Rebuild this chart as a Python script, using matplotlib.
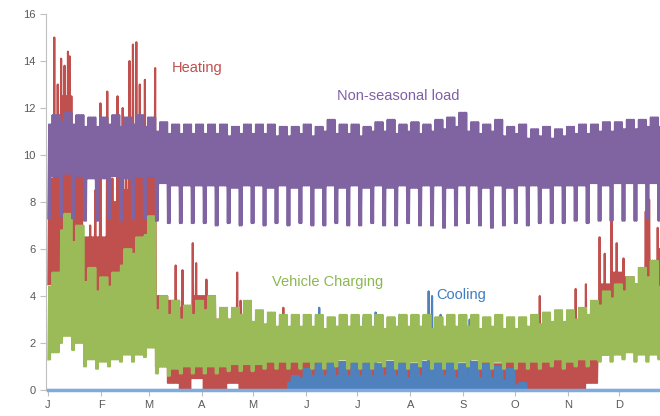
import matplotlib
matplotlib.use("Agg")
import matplotlib.pyplot as plt

plt.rcParams['font.family'] = ['Liberation Sans', 'DejaVu Sans']

# month ticks (day of year)
months = ['J', 'F', 'M', 'A', 'M', 'J', 'J', 'A', 'S', 'O', 'N', 'D']
month_days = [0, 31, 59, 90, 120, 151, 181, 212, 243, 273, 304, 334]

# weekly readings (52 weeks), rows = quarters of 13 weeks
# non-seasonal load: weekday band and weekend dip
load_hi = [11.7, 11.8, 11.7, 11.6, 11.6, 11.7, 11.6, 11.7, 11.6, 11.4, 11.3, 11.3, 11.3,
           11.3, 11.3, 11.2, 11.3, 11.3, 11.3, 11.2, 11.2, 11.3, 11.2, 11.5, 11.3, 11.3,
           11.2, 11.4, 11.5, 11.3, 11.4, 11.3, 11.5, 11.6, 11.8, 11.4, 11.3, 11.5, 11.2,
           11.3, 11.1, 11.2, 11.1, 11.2, 11.3, 11.3, 11.4, 11.4, 11.5, 11.5, 11.6, 11.6]
load_lo = [9.1, 9.2, 9.1, 9.0, 9.0, 9.1, 9.0, 9.1, 9.1, 8.8, 8.7, 8.7, 8.7,
           8.7, 8.7, 8.6, 8.7, 8.7, 8.6, 8.7, 8.6, 8.7, 8.6, 8.7, 8.6, 8.7,
           8.6, 8.7, 8.6, 8.7, 8.6, 8.7, 8.7, 8.6, 8.7, 8.7, 8.6, 8.7, 8.6,
           8.7, 8.7, 8.6, 8.7, 8.7, 8.7, 8.8, 8.7, 8.8, 8.8, 8.8, 8.8, 8.8]
load_we_hi = [11.3, 11.4, 11.3, 11.2, 11.2, 11.3, 11.2, 11.3, 11.2, 11.0, 10.9, 10.9, 10.9,
              10.9, 10.9, 10.8, 10.9, 10.9, 10.9, 10.8, 10.8, 10.9, 10.8, 11.0, 10.9, 10.9,
              10.8, 11.0, 11.0, 10.9, 11.0, 10.9, 11.0, 11.1, 11.2, 11.0, 10.9, 11.0, 10.8,
              10.9, 10.7, 10.8, 10.7, 10.8, 10.9, 10.9, 11.0, 11.0, 11.1, 11.1, 11.2, 11.2]
load_we_lo = [7.3, 7.4, 7.3, 7.2, 7.2, 7.3, 7.2, 7.3, 7.3, 7.2, 7.1, 7.1, 7.1,
              7.1, 7.0, 7.1, 7.0, 7.1, 7.0, 7.1, 7.0, 7.1, 7.0, 7.0, 7.1, 7.0,
              7.0, 7.1, 7.0, 7.0, 7.1, 7.0, 7.0, 6.9, 7.0, 7.1, 7.0, 6.9, 7.0,
              7.1, 7.0, 7.1, 7.1, 7.1, 7.2, 7.1, 7.2, 7.2, 7.2, 7.2, 7.3, 7.2]

# heating
heat_lo = [4.5, 5.0, 4.5, 3.8, 3.6, 4.0, 5.0, 5.5, 5.0, 1.0, 0.3, 0.0, 0.5,
           0.0, 0.0, 0.3, 0.0, 0.0, 0.0, 0.0, 0.0, 0.0, 0.0, 0.0, 0.0, 0.0,
           0.0, 0.0, 0.0, 0.0, 0.0, 0.0, 0.0, 0.0, 0.0, 0.0, 0.0, 0.0, 0.0,
           0.0, 0.0, 0.0, 0.0, 0.0, 0.0, 0.3, 1.5, 2.0, 2.5, 2.5, 2.5, 2.5]
heat_hi = [9.0, 12.5, 11.0, 6.5, 6.5, 8.0, 8.5, 9.5, 9.5, 4.0, 3.8, 3.5, 4.0,
           4.0, 3.0, 3.0, 2.5, 2.0, 1.5, 1.3, 1.3, 1.2, 1.2, 1.2, 1.2, 1.2,
           1.2, 1.1, 1.2, 1.0, 1.1, 1.2, 1.1, 1.0, 1.1, 1.2, 1.2, 1.1, 1.2,
           1.3, 1.4, 1.3, 1.3, 1.5, 2.0, 2.5, 4.5, 5.0, 4.8, 4.5, 5.5, 6.0]
heat_spikes = {3: 15.0, 5: 13.0, 7: 14.1, 9: 13.8, 11: 14.4, 12: 14.2, 16: 9.5,
               20: 6.0, 24: 7.0, 27: 8.5, 30: 12.2, 34: 12.7, 37: 9.0, 40: 12.5,
               43: 12.0, 45: 11.5, 47: 14.0, 49: 14.7, 51: 14.8, 53: 13.0,
               56: 13.2, 59: 10.0, 62: 13.7, 74: 5.3, 78: 5.1, 84: 6.25, 86: 5.4,
               92: 4.7, 110: 5.0, 112: 3.8, 137: 3.5, 287: 4.0, 308: 4.3,
               314: 4.5, 322: 6.5, 325: 5.8, 329: 7.5, 332: 6.25, 336: 5.6,
               349: 7.6, 350: 8.9, 351: 8.1, 356: 6.9}

# vehicle charging
ev_lo = [1.6, 2.3, 2.0, 1.3, 1.2, 1.3, 1.5, 1.5, 1.8, 1.0, 0.9, 1.0, 1.0,
         1.0, 1.0, 1.1, 1.1, 1.1, 1.2, 1.2, 1.2, 1.2, 1.2, 1.2, 1.3, 1.2,
         1.2, 1.2, 1.3, 1.2, 1.2, 1.3, 1.2, 1.2, 1.2, 1.3, 1.2, 1.2, 1.2,
         1.2, 1.2, 1.2, 1.3, 1.2, 1.3, 1.3, 1.5, 1.5, 1.6, 1.5, 1.5, 1.6]
ev_hi = [5.0, 7.5, 7.0, 5.2, 4.8, 5.0, 6.0, 6.5, 7.4, 4.0, 3.8, 3.6, 3.8,
         4.0, 3.5, 3.5, 3.8, 3.4, 3.3, 3.2, 3.2, 3.2, 3.2, 3.1, 3.2, 3.2,
         3.2, 3.2, 3.1, 3.2, 3.2, 3.2, 3.1, 3.2, 3.2, 3.2, 3.1, 3.2, 3.1,
         3.1, 3.2, 3.3, 3.4, 3.4, 3.5, 3.8, 4.2, 4.5, 4.8, 5.2, 5.5, 5.0]
ev_we_lo = [1.3, 2.0, 1.7, 1.0, 0.9, 1.0, 1.2, 1.2, 1.4, 0.7, 0.6, 0.7, 0.7,
            0.7, 0.7, 0.8, 0.8, 0.8, 0.9, 0.9, 0.9, 0.9, 0.9, 0.9, 1.0, 0.9,
            0.9, 0.9, 1.0, 0.9, 0.9, 1.0, 0.9, 0.9, 0.9, 1.0, 0.9, 0.9, 0.9,
            0.9, 0.9, 0.9, 1.0, 0.9, 1.0, 1.0, 1.2, 1.2, 1.3, 1.2, 1.2, 1.3]
ev_we_hi = [4.4, 6.8, 6.3, 4.6, 4.2, 4.4, 5.3, 5.8, 6.6, 3.4, 3.2, 3.0, 3.2,
            3.4, 3.0, 3.0, 3.2, 2.9, 2.8, 2.7, 2.7, 2.7, 2.7, 2.6, 2.7, 2.7,
            2.7, 2.7, 2.6, 2.7, 2.7, 2.7, 2.6, 2.7, 2.7, 2.7, 2.6, 2.7, 2.6,
            2.6, 2.7, 2.8, 2.9, 2.9, 3.0, 3.2, 3.6, 3.9, 4.2, 4.5, 4.8, 4.4]

# cooling (always starts at zero)
cool_lo = [0.0] * 52
cool_hi = [0, 0, 0, 0, 0, 0, 0, 0, 0, 0, 0, 0, 0,
           0, 0, 0, 0, 0, 0, 0, 0.6, 0.9, 1.1, 1.2, 1.2, 1.2,
           1.2, 1.1, 1.2, 1.2, 1.1, 1.2, 1.2, 1.2, 1.1, 1.2, 1.1, 1.0, 0.9,
           0.3, 0, 0, 0, 0, 0, 0, 0, 0, 0, 0, 0, 0]
cool_we_hi = [0, 0, 0, 0, 0, 0, 0, 0, 0, 0, 0, 0, 0,
              0, 0, 0, 0, 0, 0, 0, 0.3, 0.5, 0.6, 0.6, 0.6, 0.6,
              0.6, 0.6, 0.6, 0.6, 0.5, 0.6, 0.6, 0.6, 0.5, 0.6, 0.5, 0.5, 0.4,
              0.2, 0, 0, 0, 0, 0, 0, 0, 0, 0, 0, 0, 0]
cool_spikes = {158: 3.5, 184: 3.1, 191: 3.3, 205: 3.2, 222: 4.2, 224: 4.0,
               229: 3.2, 246: 3.0}


def zigzag(lo, hi, we_lo, we_hi, spikes={}):
    # one low and one high point per day, weekend uses its own values
    xs, ys = [], []
    for w in range(len(lo)):
        for k in range(7):
            d = 7 * w + k
            if k < 2:
                a, b = we_lo[w], we_hi[w]
            else:
                a, b = lo[w], hi[w]
            b = spikes.get(d, b)
            xs += [d + 0.15, d + 0.65]
            ys += [a, b]
    return xs, ys


red = '#C0504D'
green = '#9BBB59'
purple = '#8064A2'
blue = '#4F81BD'
lw = 1.5

fig = plt.figure(figsize=(6.6, 4.16), dpi=100)
ax = fig.add_axes([46 / 660, 26 / 416, 614 / 660, 376 / 416])

x, y = zigzag(heat_lo, heat_hi, heat_lo, heat_hi, heat_spikes)
ax.plot(x, y, color=red, lw=lw, zorder=1)
x, y = zigzag(cool_lo, cool_hi, cool_lo, cool_we_hi, cool_spikes)
ax.plot(x, y, color=blue, lw=lw, zorder=2)
ax.plot([x[0], x[-1]], [0, 0], color='#7FACDD', lw=2.5, zorder=5, clip_on=False)
x, y = zigzag(ev_lo, ev_hi, ev_we_lo, ev_we_hi)
ax.plot(x, y, color=green, lw=lw, zorder=3)
x, y = zigzag(load_lo, load_hi, load_we_lo, load_we_hi)
ax.plot(x, y, color=purple, lw=lw, zorder=4)

ax.text(72.5, 13.7, 'Heating', color=red, fontsize=10.5, va='center')
ax.text(169, 12.5, 'Non-seasonal load', color='#7F5FA8', fontsize=10.5, va='center')
ax.text(131, 4.6, 'Vehicle Charging', color='#8CB852', fontsize=10.5, va='center')
ax.text(227, 4.05, 'Cooling', color='#3E7DC0', fontsize=10.5, va='center')

ax.set_xlim(-1.2, 358)
ax.set_ylim(0, 16)
ax.set_yticks(range(0, 17, 2))
ax.set_xticks(month_days)
ax.set_xticklabels(months)
ax.tick_params(colors='#BFBFBF', labelcolor='#595959', labelsize=8, length=4)
for s in ['top', 'right']:
    ax.spines[s].set_visible(False)
for s in ['left', 'bottom']:
    ax.spines[s].set_color('#BFBFBF')

fig.savefig('out.png', dpi=100)
